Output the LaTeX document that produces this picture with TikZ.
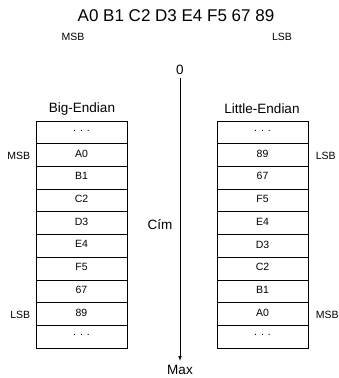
\documentclass[tikz,border=0pt]{standalone}
\usepackage{fontspec}
\setmainfont{Liberation Sans}
\usetikzlibrary{calc}

\begin{document}
\begin{tikzpicture}[x=1pt,y=-1pt]
  \tikzset{cell/.style={shape=rectangle,draw,line width=0.7pt,minimum width=91pt,minimum height=22.7pt,inner sep=0pt,text depth=3pt,font=\fontsize{10.5}{12}\selectfont}};
  \tikzset{tag/.style={font=\fontsize{10.5}{12}\selectfont}};
  \tikzset{head/.style={font=\fontsize{13.5}{16}\selectfont}};
  \useasboundingbox (0,0) rectangle (339,378);
  \coordinate (row) at (0,22.7);
  % the word and its byte order
  \node[font=\fontsize{17}{20}\selectfont] (word) at (176,16) {A0 B1 C2 D3 E4 F5 67 89};
  \node[tag] (wmsb) at (73,37) {MSB};
  \node[tag] (wlsb) at (282,37) {LSB};
  % big-endian memory
  \node[head] (big) at (82,109) {Big-Endian};
  \node[cell] (B0) at (81.5,132.35) {. . .};
  \node[cell] (B1) at ($(B0)+(row)$) {A0};
  \node[cell] (B2) at ($(B1)+(row)$) {B1};
  \node[cell] (B3) at ($(B2)+(row)$) {C2};
  \node[cell] (B4) at ($(B3)+(row)$) {D3};
  \node[cell] (B5) at ($(B4)+(row)$) {E4};
  \node[cell] (B6) at ($(B5)+(row)$) {F5};
  \node[cell] (B7) at ($(B6)+(row)$) {67};
  \node[cell] (B8) at ($(B7)+(row)$) {89};
  \node[cell] (B9) at ($(B8)+(row)$) {. . .};
  \node[tag,anchor=east] (bmsb) at ($(B1.west)+(-2,1)$) {MSB};
  \node[tag,anchor=east] (blsb) at ($(B8.west)+(-2,1)$) {LSB};
  % little-endian memory
  \node[head] (little) at (262,109) {Little-Endian};
  \node[cell] (L0) at (262.5,132.35) {. . .};
  \node[cell] (L1) at ($(L0)+(row)$) {89};
  \node[cell] (L2) at ($(L1)+(row)$) {67};
  \node[cell] (L3) at ($(L2)+(row)$) {F5};
  \node[cell] (L4) at ($(L3)+(row)$) {E4};
  \node[cell] (L5) at ($(L4)+(row)$) {D3};
  \node[cell] (L6) at ($(L5)+(row)$) {C2};
  \node[cell] (L7) at ($(L6)+(row)$) {B1};
  \node[cell] (L8) at ($(L7)+(row)$) {A0};
  \node[cell] (L9) at ($(L8)+(row)$) {. . .};
  \node[tag,anchor=west] (llsb) at ($(L1.east)+(4,1)$) {LSB};
  \node[tag,anchor=west] (lmsb) at ($(L8.east)+(4,1)$) {MSB};
  % address axis
  \node[head] (zero) at (180,70) {0};
  \node[head] (max) at (180,370) {Max};
  \node[head] (addr) at (160,225) {Cím};
  \draw[line width=0.6pt,arrows={-latex},shorten >=1pt] (zero) -- (max);
\end{tikzpicture}
\end{document}
